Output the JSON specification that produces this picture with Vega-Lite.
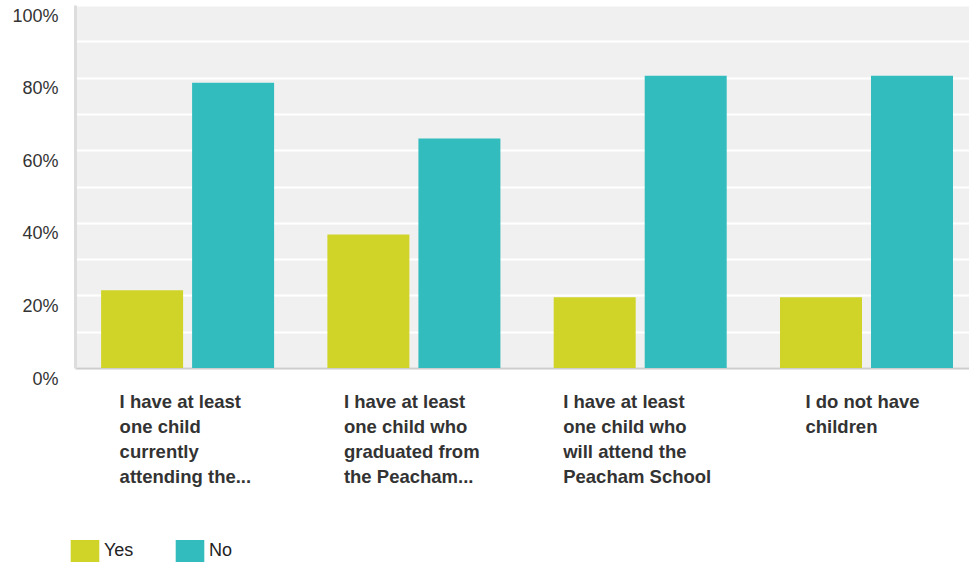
{
  "$schema": "https://vega.github.io/schema/vega-lite/v6.json",
  "width": 894,
  "height": 363,
  "autosize": {"type": "none"},
  "padding": {"left": 75, "top": 5, "right": 0, "bottom": 196},
  "background": "white",
  "config": {"view": {"fill": "#f0f0f0", "stroke": null}, "font": "Liberation Sans"},
  "data": {
    "values": [
      {"answer": "I have at least one child currently attending the...", "response": "Yes", "pct": 21.4},
      {"answer": "I have at least one child currently attending the...", "response": "No", "pct": 78.6},
      {"answer": "I have at least one child who graduated from the Peacham...", "response": "Yes", "pct": 36.8},
      {"answer": "I have at least one child who graduated from the Peacham...", "response": "No", "pct": 63.2},
      {"answer": "I have at least one child who will attend the Peacham School", "response": "Yes", "pct": 19.5},
      {"answer": "I have at least one child who will attend the Peacham School", "response": "No", "pct": 80.5},
      {"answer": "I do not have children", "response": "Yes", "pct": 19.5},
      {"answer": "I do not have children", "response": "No", "pct": 80.5}
    ]
  },
  "mark": {"type": "bar"},
  "encoding": {
    "x": {
      "field": "answer",
      "type": "nominal",
      "sort": null,
      "scale": {"paddingInner": 0.2355, "paddingOuter": 0.093, "align": 0.62},
      "axis": {
        "title": null,
        "ticks": false,
        "domainColor": "#cccccc",
        "domainWidth": 2,
        "labelFont": "Liberation Sans",
        "labelFontSize": 18.5,
        "labelFontWeight": "bold",
        "labelColor": "#333333",
        "labelAngle": 0,
        "labelAlign": "left",
        "labelBaseline": "top",
        "labelLineHeight": 25,
        "labelPadding": 24,
        "labelLimit": 0,
        "labelOverlap": false,
        "labelOffset": {
          "condition": [
            {"test": "datum.value == 'I have at least one child currently attending the...'", "value": -68},
            {"test": "datum.value == 'I have at least one child who graduated from the Peacham...'", "value": -70},
            {"test": "datum.value == 'I have at least one child who will attend the Peacham School'", "value": -77}
          ],
          "value": -61
        },
        "labelExpr": "datum.value == 'I have at least one child currently attending the...' ? ['I have at least', 'one child', 'currently', 'attending the...'] : datum.value == 'I have at least one child who graduated from the Peacham...' ? ['I have at least', 'one child who', 'graduated from', 'the Peacham...'] : datum.value == 'I have at least one child who will attend the Peacham School' ? ['I have at least', 'one child who', 'will attend the', 'Peacham School'] : ['I do not have', 'children']"
      }
    },
    "xOffset": {
      "field": "response",
      "sort": ["Yes", "No"],
      "scale": {"paddingInner": 0.099, "paddingOuter": 0}
    },
    "y": {
      "field": "pct",
      "type": "quantitative",
      "scale": {"domain": [0, 100]},
      "axis": {
        "title": null,
        "values": [0, 10, 20, 30, 40, 50, 60, 70, 80, 90, 100],
        "labelExpr": "datum.value % 20 == 0 ? datum.value + '%' : ''",
        "grid": true,
        "gridColor": "#ffffff",
        "gridWidth": 2,
        "ticks": false,
        "domainColor": "#dddddd",
        "domainWidth": 3,
        "labelFont": "Liberation Sans",
        "labelFontSize": 18,
        "labelColor": "#333333",
        "labelPadding": 17,
        "labelBaseline": "top",
        "labelOffset": 2,
        "labelOverlap": false
      }
    },
    "color": {
      "field": "response",
      "type": "nominal",
      "sort": ["Yes", "No"],
      "scale": {"domain": ["Yes", "No"], "range": ["#d0d428", "#33bcbe"]},
      "legend": {
        "title": null,
        "orient": "none",
        "legendX": -1,
        "legendY": 535,
        "direction": "horizontal",
        "symbolType": "M-1.3,-1H1.3V1H-1.3Z",
        "symbolSize": 484,
        "symbolStrokeWidth": 0,
        "labelFont": "Liberation Sans",
        "labelFontSize": 18,
        "labelColor": "#222222",
        "labelOffset": 8,
        "columnPadding": 41
      }
    }
  }
}
